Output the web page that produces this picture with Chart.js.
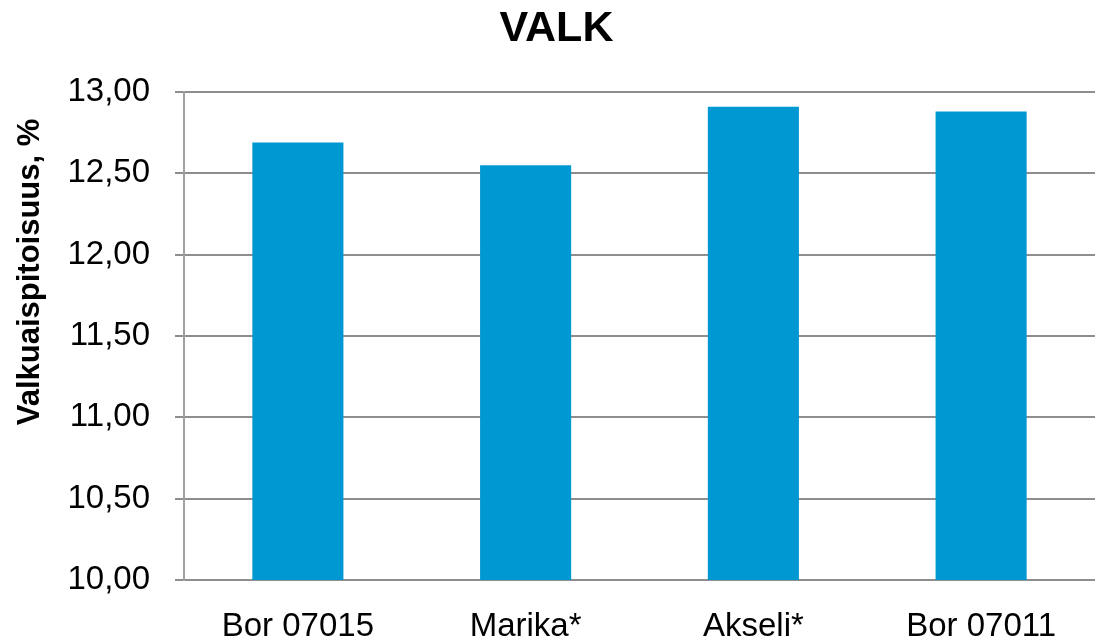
<!DOCTYPE html>
<html>
<head>
<meta charset="utf-8">
<script src="https://cdn.jsdelivr.net/npm/chart.js@4"></script>
<style>
  html, body { margin: 0; padding: 0; background: #fff; }
</style>
</head>
<body>
<canvas id="valk" width="1095" height="640"></canvas>
<script>
const categories = ['Bor 07015', 'Marika*', 'Akseli*', 'Bor 07011'];
const protein = [12.69, 12.55, 12.91, 12.88];
const yTicks = [10, 10.5, 11, 11.5, 12, 12.5, 13];
const yTitle = 'Valkuaispitoisuus, %';

const fontFamily = '"Liberation Sans", Arial, sans-serif';
const gridGray = '#8e8e8e';

// y-axis title sits a bit above the middle of the axis in the original
const yTitlePlugin = {
    id: 'yTitle',
    afterDraw: chart => {
        const c = chart.ctx;
        c.save();
        c.translate(30, 272);
        c.rotate(-Math.PI / 2);
        c.font = 'bold 31px ' + fontFamily;
        c.fillStyle = '#000';
        c.textAlign = 'center';
        c.textBaseline = 'middle';
        c.fillText(yTitle, 0, 0);
        c.restore();
    }
};

var ctx = document.getElementById('valk').getContext('2d');
const valkChart = new Chart(ctx, {
    type: 'bar',
    data: {
        labels: categories,
        datasets: [{
            label: 'Valkuaispitoisuus',
            data: protein,
            backgroundColor: '#0098d3',
            borderWidth: 0,
            barPercentage: 0.4,
            categoryPercentage: 1
        }]
    },
    plugins: [yTitlePlugin],
    options: {
        responsive: false,
        animation: false,
        layout: { padding: { left: 18, right: 0, top: 0, bottom: 0 } },
        plugins: {
            legend: { display: false },
            tooltip: { enabled: false },
            title: {
                display: true,
                text: 'VALK',
                color: '#000',
                font: { family: fontFamily, size: 43, weight: 'bold', lineHeight: 1.2 },
                padding: { top: 3, bottom: 37.4 }
            }
        },
        scales: {
            x: {
                grid: { display: false },
                border: { display: false },
                ticks: {
                    color: '#000',
                    font: { family: fontFamily, size: 33 },
                    padding: 19,
                    maxRotation: 0,
                    autoSkip: false
                },
                afterFit: scale => { scale.height = 60; }
            },
            y: {
                min: yTicks[0],
                max: yTicks[yTicks.length - 1],
                afterBuildTicks: scale => {
                    scale.ticks = yTicks.map(v => ({ value: v }));
                },
                grid: {
                    color: gridGray,
                    lineWidth: 2,
                    drawTicks: true,
                    tickLength: 9,
                    tickColor: gridGray
                },
                border: { color: '#a0a0a0', width: 2 },
                ticks: {
                    color: '#000',
                    font: { family: fontFamily, size: 33 },
                    padding: 25,
                    callback: v => v.toFixed(2).replace('.', ',')
                },
                afterFit: scale => { scale.width = 166; }
            }
        }
    }
});
</script>
</body>
</html>
